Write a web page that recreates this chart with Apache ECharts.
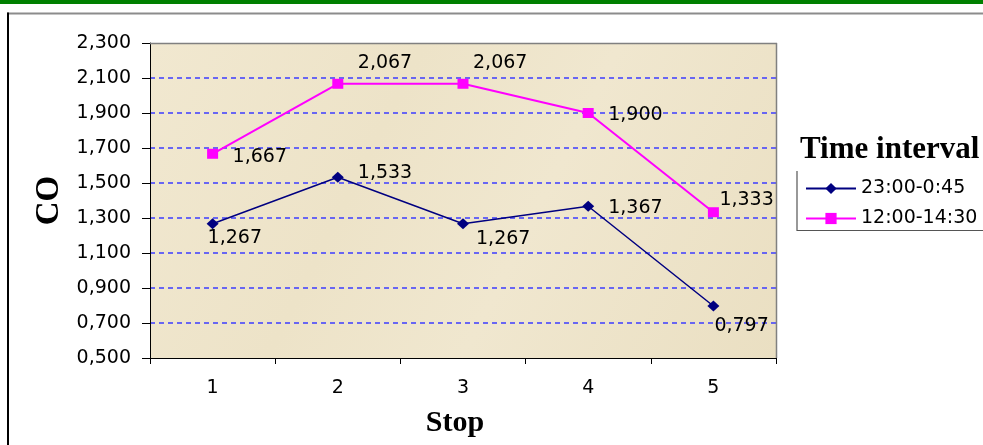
<!DOCTYPE html>
<html>
<head>
<meta charset="utf-8">
<script src="https://cdn.jsdelivr.net/npm/echarts@6/dist/echarts.min.js"></script>
<style>
  html, body { margin: 0; padding: 0; background: #ffffff; }
  #chart { width: 983px; height: 445px; }
</style>
</head>
<body>
<div id="chart"></div>
<script>
// Stops along the route
const stops = ['1', '2', '3', '4', '5'];
// CO concentration per stop for each time interval
const nightName = '23:00-0:45';
const nightValues = [1.267, 1.533, 1.267, 1.367, 0.797];
const dayName = '12:00-14:30';
const dayValues = [1.667, 2.067, 2.067, 1.900, 1.333];
// Value axis range
const yMin = 0.5;
const yMax = 2.3;
const yStep = 0.2;

// Where each value label sits relative to its point: [dx to text start, dy to text middle]
const nightLabelOffsets = [[-5, 14], [20, -4], [13, 15], [20, 2], [1, 20]];
const dayLabelOffsets = [[20, 3], [20, -21], [10, -21], [20, 2], [6, -12]];

const fmt = v => Number(v).toFixed(3).replace('.', ',');
const numFont = 'DejaVu Sans';
const serif = 'Liberation Serif';

function withLabels(values, offsets) {
  return values.map((v, i) => ({
    value: v,
    label: { offset: offsets[i] }
  }));
}

// Gridline colours per tick: the bottom and top ones are left to the axis line and the frame
const tickCount = Math.round((yMax - yMin) / yStep) + 1;
const gridColors = [];
for (let k = 0; k < tickCount; k++) {
  gridColors.push(k === 0 || k === tickCount - 1 ? 'rgba(0,0,0,0)' : '#3c3cff');
}

const chart = echarts.init(document.getElementById('chart'), null, { renderer: 'canvas' });

const plot = { left: 150, top: 43, width: 626, height: 315 };

const valueLabel = {
  show: true,
  position: 'inside',
  align: 'left',
  verticalAlign: 'middle',
  fontFamily: numFont,
  fontSize: 19,
  color: '#000000',
  formatter: p => fmt(p.value)
};

chart.setOption({
  animation: false,
  backgroundColor: '#ffffff',
  title: {
    text: 'Time interval',
    left: 800,
    top: 134,
    padding: 0,
    textStyle: { fontFamily: serif, fontWeight: 'bold', fontSize: 31, color: '#000000' }
  },
  legend: {
    orient: 'vertical',
    left: 805,
    top: 179,
    padding: 0,
    itemWidth: 50,
    itemHeight: 14,
    itemGap: 11,
    textStyle: { fontFamily: numFont, fontSize: 19, color: '#000000' },
    data: [nightName, dayName]
  },
  grid: {
    left: plot.left,
    top: plot.top,
    width: plot.width,
    height: plot.height,
    show: true,
    borderWidth: 0,
    backgroundColor: new echarts.graphic.LinearGradient(0, 0, 1, 1, [
      { offset: 0, color: '#f1e8d0' },
      { offset: 0.35, color: '#ede3c8' },
      { offset: 0.6, color: '#f0e7cf' },
      { offset: 1, color: '#eadfc2' }
    ]),
    outerBoundsMode: 'none'
  },
  xAxis: {
    type: 'category',
    data: stops,
    boundaryGap: true,
    name: 'Stop',
    nameLocation: 'middle',
    nameGap: 50,
    nameTextStyle: {
      fontFamily: serif, fontWeight: 'bold', fontSize: 30, color: '#000000',
      padding: [0, 16, 0, 0]
    },
    axisLine: { lineStyle: { color: '#000000', width: 1 } },
    axisTick: { show: true, length: 6, interval: 0, lineStyle: { color: '#000000' } },
    axisLabel: { margin: 21, fontFamily: numFont, fontSize: 19, color: '#000000' },
    splitLine: { show: false }
  },
  yAxis: {
    type: 'value',
    min: yMin,
    max: yMax,
    interval: yStep,
    name: 'CO',
    nameLocation: 'middle',
    nameRotate: 90,
    nameGap: 80,
    nameTextStyle: { fontFamily: serif, fontWeight: 'bold', fontSize: 33, color: '#000000' },
    axisLine: { show: true, lineStyle: { color: '#000000', width: 1 } },
    axisTick: { show: true, length: 8, lineStyle: { color: '#000000' } },
    axisLabel: {
      margin: 19,
      padding: [4, 0, 0, 0],
      fontFamily: numFont,
      fontSize: 19,
      color: '#000000',
      formatter: fmt
    },
    splitLine: {
      show: true,
      lineStyle: { color: gridColors, width: 1.5, type: [5, 4] }
    }
  },
  series: [
    {
      name: nightName,
      type: 'line',
      data: withLabels(nightValues, nightLabelOffsets),
      symbol: 'diamond',
      symbolSize: [12, 11],
      itemStyle: { color: '#000080' },
      lineStyle: { color: '#000080', width: 1.5 },
      label: valueLabel,
      z: 3
    },
    {
      name: dayName,
      type: 'line',
      data: withLabels(dayValues, dayLabelOffsets),
      symbol: 'rect',
      symbolSize: [11, 10],
      itemStyle: { color: '#ff00ff' },
      lineStyle: { color: '#ff00ff', width: 2 },
      label: valueLabel,
      z: 4
    }
  ],
  graphic: [
    // green band across the top
    { type: 'rect', shape: { x: 0, y: 0, width: 983, height: 4 }, style: { fill: '#008000' }, z: 10 },
    // outer frame: gray top edge and dark left edge
    { type: 'line', shape: { x1: 7, y1: 13.5, x2: 983, y2: 13.5 }, style: { stroke: '#8c8c8c', lineWidth: 2 }, z: 10 },
    { type: 'line', shape: { x1: 8, y1: 12.5, x2: 8, y2: 445 }, style: { stroke: '#000000', lineWidth: 2 }, z: 10 },
    // plot frame: gray top and right edges
    { type: 'line', shape: { x1: plot.left, y1: plot.top + 0.5, x2: plot.left + plot.width + 1, y2: plot.top + 0.5 }, style: { stroke: '#808080', lineWidth: 1.5 }, z: 10 },
    { type: 'line', shape: { x1: plot.left + plot.width + 0.5, y1: plot.top, x2: plot.left + plot.width + 0.5, y2: plot.top + plot.height }, style: { stroke: '#808080', lineWidth: 1.5 }, z: 10 },
    // legend box: left and bottom edges
    { type: 'polyline', shape: { points: [[797, 171], [797, 230.5], [983, 230.5]] }, style: { stroke: '#555555', lineWidth: 1.2, fill: null }, z: 10 }
  ]
});
</script>
</body>
</html>
